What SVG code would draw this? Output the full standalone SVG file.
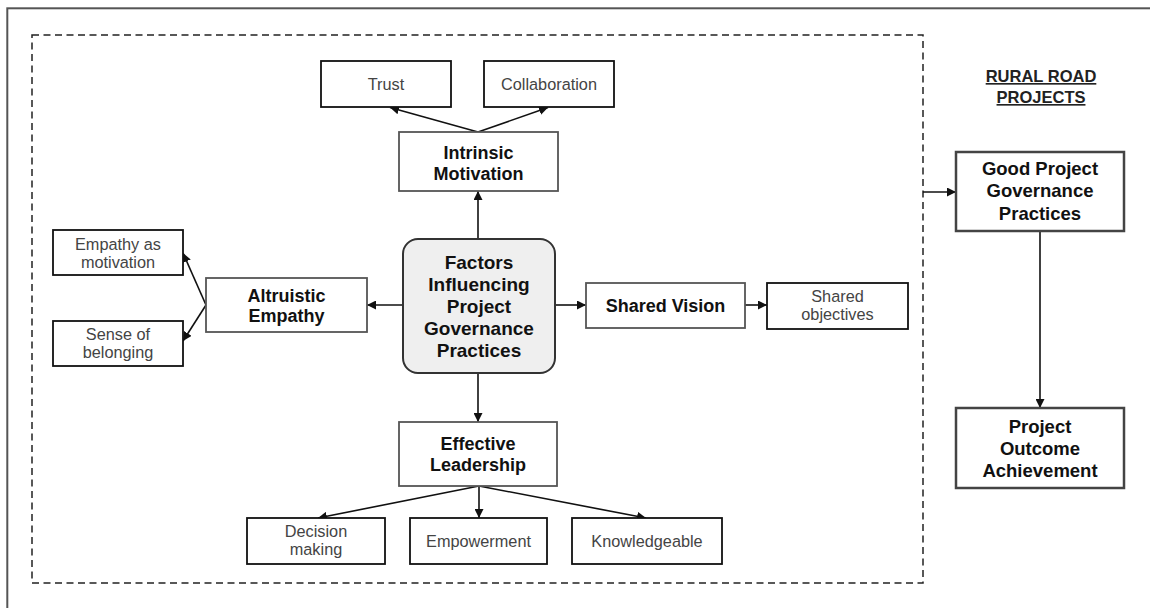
<svg xmlns="http://www.w3.org/2000/svg" width="1150" height="608" viewBox="0 0 1150 608">
<defs>
<marker id="ah" markerWidth="9" markerHeight="9" refX="9" refY="4.5" orient="auto" markerUnits="userSpaceOnUse">
<path d="M0,0 L9,4.5 L0,9 z" fill="#111"/>
</marker>
<style>
.leaf{fill:#fff;stroke:#111;stroke-width:1.8}
.main{fill:#fff;stroke:#555;stroke-width:1.8}
.side{fill:#fff;stroke:#444;stroke-width:2.5}
.lt{font-family:"Liberation Sans",Arial,sans-serif;font-size:16.3px;fill:#444;text-anchor:middle}
.bt{font-family:"Liberation Sans",Arial,sans-serif;font-size:18px;font-weight:bold;fill:#111;text-anchor:middle}
.ct{font-size:19px}
.hd{font-family:"Liberation Sans",Arial,sans-serif;font-size:16.5px;font-weight:bold;fill:#222;text-anchor:middle;text-decoration:underline}
.cn{fill:none;stroke:#111;stroke-width:1.6;marker-end:url(#ah)}
</style>
</defs>
<rect width="1150" height="608" fill="#fff"/>
<rect x="7.3" y="8.3" width="1160" height="620" fill="none" stroke="#555" stroke-width="2"/>
<rect x="32" y="35" width="891" height="548" fill="none" stroke="#222" stroke-width="1.5" stroke-dasharray="7 4.5"/>

<g id="connectors">
<line class="cn" x1="478" y1="132" x2="390" y2="107.5"/>
<line class="cn" x1="478" y1="132" x2="548" y2="107.5"/>
<line class="cn" x1="478" y1="239" x2="478" y2="191"/>
<line class="cn" x1="403" y1="305" x2="367" y2="305"/>
<line class="cn" x1="206" y1="305" x2="183" y2="253"/>
<line class="cn" x1="206" y1="305" x2="183" y2="341"/>
<line class="cn" x1="555" y1="305" x2="586" y2="305"/>
<line class="cn" x1="745" y1="305" x2="767" y2="305"/>
<line class="cn" x1="478" y1="373" x2="478" y2="422"/>
<line class="cn" x1="479" y1="486" x2="318" y2="518"/>
<line class="cn" x1="479" y1="486" x2="479" y2="518"/>
<line class="cn" x1="479" y1="486" x2="646" y2="518"/>
<line class="cn" x1="923" y1="192" x2="956" y2="192"/>
<line class="cn" x1="1040" y1="231" x2="1040" y2="408"/>
</g>

<g id="trust"><rect class="leaf" x="321" y="61" width="130" height="46"/><text class="lt" x="386" y="89.5">Trust</text></g>
<g id="collaboration"><rect class="leaf" x="484" y="61" width="130" height="46"/><text class="lt" x="549" y="89.5">Collaboration</text></g>
<g id="intrinsic"><rect class="main" x="399" y="132" width="159" height="59"/><text class="bt" x="478.5" y="159">Intrinsic</text><text class="bt" x="478.5" y="180">Motivation</text></g>

<g id="empathy-motivation"><rect class="leaf" x="53" y="230" width="130" height="45"/><text class="lt" x="118" y="250">Empathy as</text><text class="lt" x="118" y="268">motivation</text></g>
<g id="belonging"><rect class="leaf" x="53" y="321" width="130" height="45"/><text class="lt" x="118" y="340">Sense of</text><text class="lt" x="118" y="358">belonging</text></g>
<g id="altruistic"><rect class="main" x="206" y="278" width="161" height="54"/><text class="bt" x="286.5" y="302">Altruistic</text><text class="bt" x="286.5" y="322">Empathy</text></g>

<g id="factors"><rect x="403" y="239" width="152" height="134" rx="15" fill="#efefef" stroke="#333" stroke-width="2"/>
<text class="bt ct" x="479" y="268.5">Factors</text>
<text class="bt ct" x="479" y="290.5">Influencing</text>
<text class="bt ct" x="479" y="312.5">Project</text>
<text class="bt ct" x="479" y="334.5">Governance</text>
<text class="bt ct" x="479" y="356.5">Practices</text></g>

<g id="shared-vision"><rect class="main" x="586" y="283" width="159" height="45"/><text class="bt" x="665.5" y="312">Shared Vision</text></g>
<g id="shared-objectives"><rect class="leaf" x="767" y="283" width="141" height="46"/><text class="lt" x="837.5" y="302">Shared</text><text class="lt" x="837.5" y="320">objectives</text></g>

<g id="effective"><rect class="main" x="399" y="422" width="158" height="64"/><text class="bt" x="478" y="450">Effective</text><text class="bt" x="478" y="471">Leadership</text></g>
<g id="decision"><rect class="leaf" x="247" y="518" width="138" height="46"/><text class="lt" x="316" y="537">Decision</text><text class="lt" x="316" y="555">making</text></g>
<g id="empowerment"><rect class="leaf" x="410" y="518" width="137" height="46"/><text class="lt" x="478.5" y="546.5">Empowerment</text></g>
<g id="knowledgeable"><rect class="leaf" x="572" y="518" width="150" height="46"/><text class="lt" x="647" y="546.5">Knowledgeable</text></g>

<g id="header"><text class="hd" x="1041" y="82">RURAL ROAD</text><text class="hd" x="1041" y="103">PROJECTS</text></g>
<g id="good-governance"><rect class="side" x="956" y="152" width="168" height="79"/><text class="bt" x="1040" y="175" style="font-size:18.5px">Good Project</text><text class="bt" x="1040" y="197" style="font-size:18.5px">Governance</text><text class="bt" x="1040" y="220" style="font-size:18.5px">Practices</text></g>
<g id="outcome"><rect class="side" x="956" y="408" width="168" height="80"/><text class="bt" x="1040" y="433" style="font-size:18.5px">Project</text><text class="bt" x="1040" y="455" style="font-size:18.5px">Outcome</text><text class="bt" x="1040" y="477" style="font-size:18.5px">Achievement</text></g>
</svg>
